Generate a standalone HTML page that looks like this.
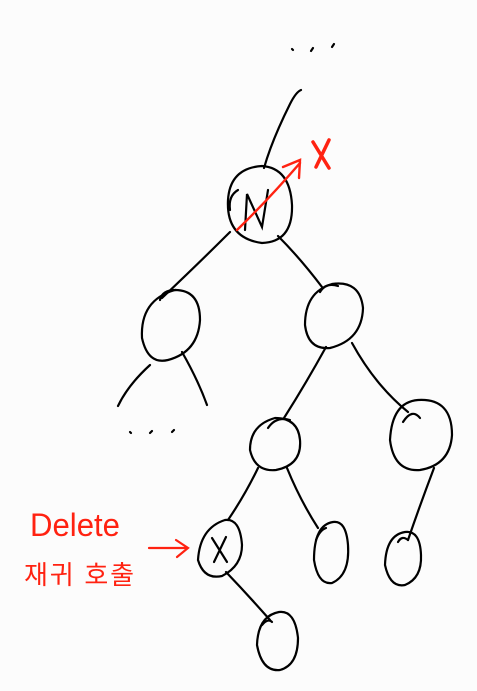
<!DOCTYPE html>
<html><head><meta charset="utf-8"><style>
html,body{margin:0;padding:0;background:#fcfcfc;width:477px;height:691px;overflow:hidden}
svg{display:block}
</style></head><body>
<svg width="477" height="691" viewBox="0 0 477 691" xmlns="http://www.w3.org/2000/svg">
<g fill="none" stroke="#000" stroke-width="2.2" stroke-linecap="round">
<path d="M292 49l1 1M311 51l2-3M332 47l2-3"/>
<path d="M130 432l1 1M150 433l2-2M172 432l2-2"/>
<path d="M301 90 Q296 92 290 104 Q272 140 264 168"/>
<path d="M262 166 Q230 168 228 200 Q226 238 262 243 Q293 242 292 205 Q290 168 262 166 Z"/>
<path d="M238 190 Q228 196 230 210"/>
<path d="M245 230 L247 194 L262 227 L268 190"/>
<path d="M230 232 Q200 262 162 298"/>
<path d="M278 236 Q300 258 322 287"/>
<path d="M175 290 Q140 300 142 338 Q148 365 168 360 Q198 352 200 320 Q200 290 175 290 Z"/>
<path d="M160 300 Q162 290 176 290"/>
<path d="M150 365 Q128 385 118 406"/>
<path d="M182 352 Q198 380 207 405"/>
<path d="M332 284 Q305 292 305 325 Q308 350 330 348 Q362 340 363 308 Q360 280 332 284 Z"/>
<path d="M320 292 Q326 282 338 286"/>
<path d="M326 347 Q305 385 284 418"/>
<path d="M352 343 Q375 385 408 412"/>
<path d="M275 418 Q250 425 250 450 Q255 472 276 470 Q302 465 300 440 Q298 418 275 418 Z"/>
<path d="M268 428 Q276 416 290 420"/>
<path d="M258 468 Q245 495 228 520"/>
<path d="M287 468 Q300 500 318 528"/>
<path d="M418 400 Q392 402 390 440 Q394 472 420 470 Q450 465 452 435 Q452 398 418 400 Z"/>
<path d="M403 422 Q412 408 420 418"/>
<path d="M434 468 Q420 505 408 540"/>
<path d="M225 520 Q200 528 198 560 Q204 580 222 576 Q242 566 242 545 Q240 518 225 520 Z"/>
<path d="M212 538 L227 562 M226 537 L214 562"/>
<path d="M226 572 Q248 595 270 620"/>
<path d="M333 522 Q314 525 314 560 Q318 585 332 583 Q350 575 348 545 Q346 520 333 522 Z"/>
<path d="M316 540 Q320 530 326 528"/>
<path d="M405 532 Q386 535 385 565 Q390 588 405 585 Q422 578 421 555 Q420 530 405 532 Z"/>
<path d="M398 542 Q402 535 408 540"/>
<path d="M279 612 Q258 616 257 645 Q262 672 280 670 Q298 665 298 638 Q295 610 279 612 Z"/>
<path d="M262 625 Q268 618 272 622"/>
</g>
<g fill="none" stroke="#f21" stroke-width="2.4" stroke-linecap="round">
<path d="M237 230 Q268 200 300 163"/>
<path d="M283 167 L300 160 L299 178"/>
</g>
<path d="M313 142 L329 168 M329 140 L316 167" fill="none" stroke="#f21" stroke-width="3.5" stroke-linecap="round"/>
<path d="M149 548 L186 548 M176 540 L188 548 L177 557" fill="none" stroke="#f21" stroke-width="2.2" stroke-linecap="round"/>
<text x="30" y="536" font-family="Liberation Sans, sans-serif" font-size="32" fill="#f21" textLength="90" lengthAdjust="spacingAndGlyphs">Delete</text>
<text x="24" y="584" font-family="Liberation Sans, 'Noto Sans CJK KR', sans-serif" font-size="26" fill="#f21" textLength="110" lengthAdjust="spacing">재귀 호출</text>
</svg>
</body></html>
